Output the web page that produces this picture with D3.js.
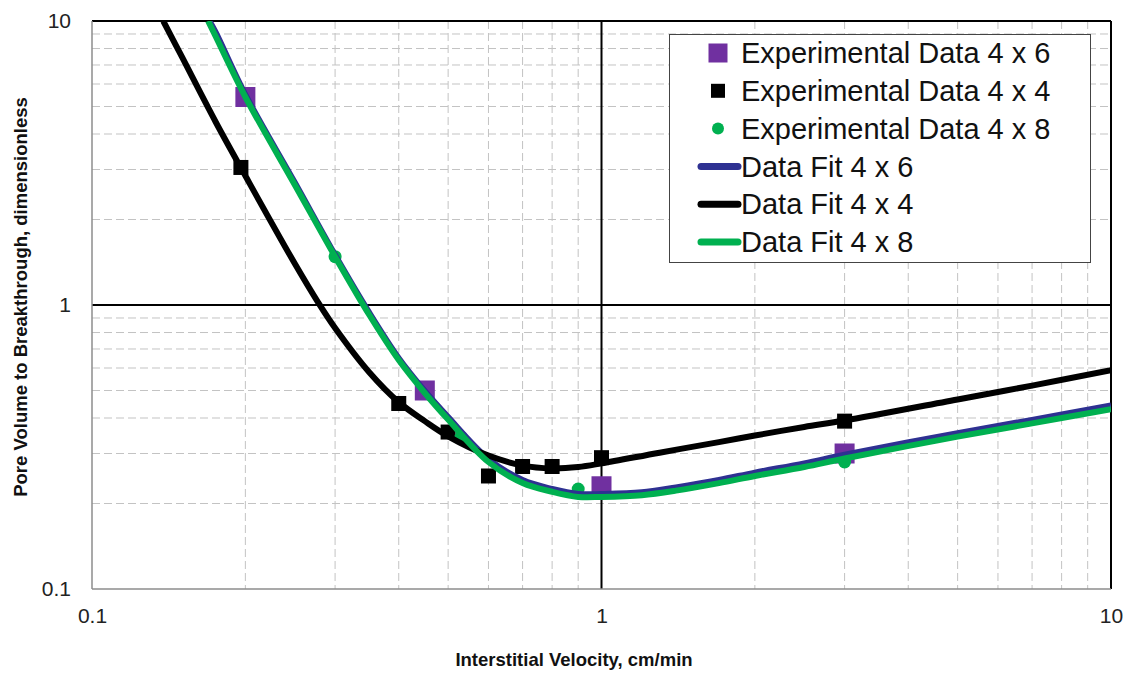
<!DOCTYPE html>
<html>
<head>
<meta charset="utf-8">
<script src="https://cdn.jsdelivr.net/npm/d3@7"></script>
<style>
  body { margin: 0; background: #fff; }
  svg { display: block; font-family: Arial, "Liberation Sans", sans-serif; }
</style>
</head>
<body>
<svg id="chart" width="1129" height="673"></svg>
<script>
// experimental points
const expVel46 = [0.2, 0.45, 1, 3];
const expPv46 = [5.4, 0.5, 0.23, 0.3];
const expVel44 = [0.196, 0.4, 0.5, 0.6, 0.7, 0.8, 1, 3];
const expPv44 = [3.05, 0.45, 0.357, 0.25, 0.27, 0.27, 0.29, 0.39];
const expVel48 = [0.3, 0.53, 0.9, 3];
const expPv48 = [1.48, 0.343, 0.225, 0.28];

// fitted curves
const fitVel46 = [0.17, 0.175, 0.2, 0.25, 0.3, 0.35, 0.4, 0.45, 0.5, 0.6, 0.7, 0.8, 0.9, 1, 1.2, 1.4, 1.7, 2, 2.5, 3, 5, 7, 10];
const fitPv46 = [10, 9.1, 5.5, 2.7, 1.5, 0.94, 0.65, 0.498, 0.403, 0.287, 0.242, 0.225, 0.216, 0.216, 0.219, 0.228, 0.242, 0.257, 0.277, 0.297, 0.354, 0.394, 0.443];
const fitVel44 = [0.138, 0.15, 0.175, 0.2, 0.25, 0.278, 0.3, 0.35, 0.4, 0.45, 0.5, 0.6, 0.7, 0.8, 0.9, 1, 1.3, 1.7, 2, 2.5, 3, 5, 7, 10];
const fitPv44 = [10, 7.5, 4.4, 2.85, 1.4, 1.02, 0.83, 0.58, 0.455, 0.39, 0.345, 0.295, 0.272, 0.266, 0.269, 0.277, 0.302, 0.329, 0.347, 0.372, 0.392, 0.465, 0.52, 0.59];
const fitVel48 = [0.169, 0.175, 0.2, 0.25, 0.3, 0.35, 0.4, 0.45, 0.5, 0.6, 0.7, 0.8, 0.9, 1, 1.2, 1.4, 1.7, 2, 2.5, 3, 5, 7, 10];
const fitPv48 = [10, 8.8, 5.4, 2.65, 1.48, 0.924, 0.64, 0.49, 0.395, 0.28, 0.236, 0.22, 0.211, 0.211, 0.214, 0.222, 0.236, 0.25, 0.269, 0.288, 0.344, 0.383, 0.43];

const majorTicks = [0.1, 1, 10];
const tickLabels = ['0.1', '1', '10'];
const legendLabels = ['Experimental Data 4 x 6', 'Experimental Data 4 x 4', 'Experimental Data 4 x 8',
                      'Data Fit 4 x 6', 'Data Fit 4 x 4', 'Data Fit 4 x 8'];

const PURPLE = '#7030A0', NAVY = '#2E3192', GREEN = '#00B050', BLACK = '#000';

const svg = d3.select('#chart');
const x = d3.scaleLog().domain([0.1, 10]).range([92, 1111]);
const y = d3.scaleLog().domain([0.1, 10]).range([589, 21]);

const zip = (a, b) => a.map((v, i) => [v, b[i]]);

// minor grid
const isMajor = d => majorTicks.indexOf(+d.toPrecision(3)) >= 0;
const minorX = x.ticks().filter(d => !isMajor(d));
const minorY = y.ticks().filter(d => !isMajor(d));

let grid = svg.append('g');
grid.selectAll('.vx').data(minorX).join('line')
    .attr('x1', d => x(d)).attr('x2', d => x(d))
    .attr('y1', y(10)).attr('y2', y(0.1))
    .attr('stroke', '#c3c3c3').attr('stroke-width', 1).attr('stroke-dasharray', '8,4');
grid.selectAll('.hy').data(minorY).join('line')
    .attr('y1', d => y(d)).attr('y2', d => y(d))
    .attr('x1', x(0.1)).attr('x2', x(10))
    .attr('stroke', '#c3c3c3').attr('stroke-width', 1).attr('stroke-dasharray', '8,4');

// major grid (1 and 10 black), axis lines at 0.1 grey
grid.selectAll('.mx').data([1, 10]).join('line')
    .attr('x1', d => x(d)).attr('x2', d => x(d))
    .attr('y1', y(10)).attr('y2', y(0.1))
    .attr('stroke', BLACK).attr('stroke-width', 2);
grid.selectAll('.my').data([1, 10]).join('line')
    .attr('y1', d => y(d)).attr('y2', d => y(d))
    .attr('x1', x(0.1)).attr('x2', x(10))
    .attr('stroke', BLACK).attr('stroke-width', 2);
grid.append('line')
    .attr('x1', x(0.1)).attr('x2', x(0.1)).attr('y1', y(10)).attr('y2', y(0.1))
    .attr('stroke', '#8c8c8c').attr('stroke-width', 1.5);
grid.append('line')
    .attr('x1', x(0.1)).attr('x2', x(10)).attr('y1', y(0.1)).attr('y2', y(0.1))
    .attr('stroke', '#8c8c8c').attr('stroke-width', 1.5);

// axes (labels only)
let xAxis = svg.append('g')
    .attr('transform', 'translate(0,' + y(0.1) + ')')
    .call(d3.axisBottom(x).tickValues(majorTicks)
        .tickFormat((d, i) => tickLabels[i]).tickSize(0).tickPadding(19));
let yAxis = svg.append('g')
    .attr('transform', 'translate(' + x(0.1) + ',0)')
    .call(d3.axisLeft(y).tickValues(majorTicks)
        .tickFormat((d, i) => tickLabels[i]).tickSize(0).tickPadding(21));
[xAxis, yAxis].forEach(function(a) {
  a.select('.domain').remove();
  a.selectAll('text').attr('font-size', 21).attr('fill', '#222')
      .attr('font-family', 'Arial, "Liberation Sans", sans-serif');
});

svg.append('text')
    .attr('x', 574).attr('y', 666)
    .attr('text-anchor', 'middle')
    .attr('font-size', 18.5).attr('font-weight', 'bold').attr('fill', '#111')
    .text('Interstitial Velocity, cm/min');
svg.append('text')
    .attr('transform', 'translate(27,297) rotate(-90)')
    .attr('text-anchor', 'middle')
    .attr('font-size', 18.5).attr('font-weight', 'bold').attr('fill', '#111')
    .text('Pore Volume to Breakthrough, dimensionless');

// clip for fits
svg.append('clipPath').attr('id', 'plot')
  .append('rect').attr('x', x(0.1)).attr('y', y(10))
    .attr('width', x(10) - x(0.1)).attr('height', y(0.1) - y(10));

// markers
let marks = svg.append('g');
marks.selectAll('.p46').data(zip(expVel46, expPv46)).join('rect')
    .attr('x', d => x(d[0]) - 10).attr('y', d => y(d[1]) - 10)
    .attr('width', 20).attr('height', 20).attr('fill', PURPLE);
marks.selectAll('.p44').data(zip(expVel44, expPv44)).join('rect')
    .attr('x', d => x(d[0]) - 7.5).attr('y', d => y(d[1]) - 7.5)
    .attr('width', 15).attr('height', 15).attr('fill', BLACK);
marks.selectAll('.p48').data(zip(expVel48, expPv48)).join('circle')
    .attr('cx', d => x(d[0])).attr('cy', d => y(d[1]))
    .attr('r', 6.5).attr('fill', GREEN);

// fit lines
let fitLine = d3.line()
    .x(d => x(d[0]))
    .y(d => y(d[1]))
    .curve(d3.curveCatmullRom.alpha(0.5));

let fits = svg.append('g').attr('clip-path', 'url(#plot)');
[[fitVel46, fitPv46, NAVY], [fitVel44, fitPv44, BLACK], [fitVel48, fitPv48, GREEN]].forEach(function(f) {
  fits.append('path')
      .attr('d', fitLine(zip(f[0], f[1])))
      .attr('fill', 'none')
      .attr('stroke', f[2])
      .attr('stroke-width', 6)
      .attr('stroke-linejoin', 'round');
});

// legend
let legend = svg.append('g');
legend.append('rect')
    .attr('x', 669.5).attr('y', 34.5).attr('width', 421).attr('height', 228)
    .attr('fill', '#fff').attr('stroke', '#444').attr('stroke-width', 1);
const rowY = i => 53 + i * 37.8;
legend.selectAll('text').data(legendLabels).join('text')
    .attr('x', 741).attr('y', (d, i) => rowY(i))
    .attr('dy', '0.35em')
    .attr('font-size', 29).attr('fill', '#111')
    .text(d => d);
legend.append('rect').attr('x', 708.5).attr('y', rowY(0) - 9.5).attr('width', 19).attr('height', 19).attr('fill', PURPLE);
legend.append('rect').attr('x', 711).attr('y', rowY(1) - 7).attr('width', 14).attr('height', 14).attr('fill', BLACK);
legend.append('circle').attr('cx', 718).attr('cy', rowY(2)).attr('r', 6).attr('fill', GREEN);
[NAVY, BLACK, GREEN].forEach(function(c, i) {
  legend.append('line')
      .attr('x1', 701).attr('x2', 738)
      .attr('y1', rowY(3 + i)).attr('y2', rowY(3 + i))
      .attr('stroke', c).attr('stroke-width', 7).attr('stroke-linecap', 'round');
});
</script>
</body>
</html>
